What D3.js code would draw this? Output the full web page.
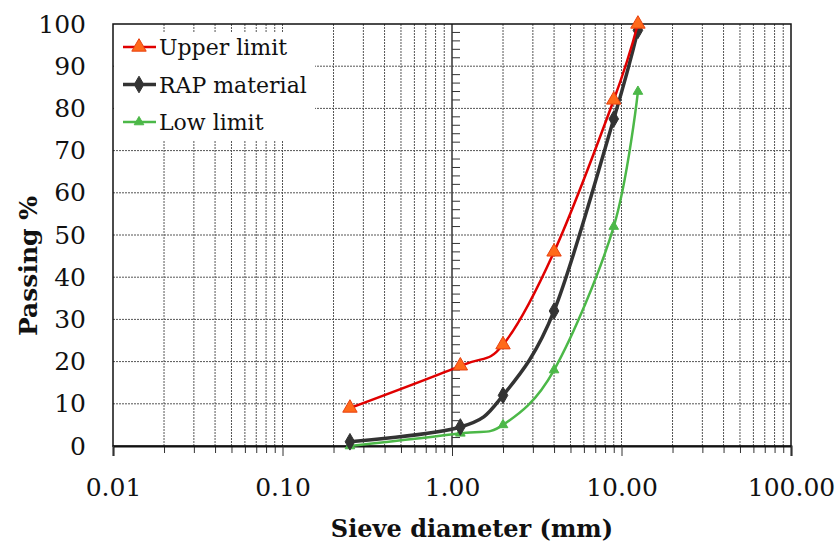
<!DOCTYPE html>
<html>
<head>
<meta charset="utf-8">
<script src="https://cdn.jsdelivr.net/npm/d3@7"></script>
<style>
  body { margin: 0; background: #fff; }
  svg text { font-family: "DejaVu Serif", "Liberation Serif", serif; fill: #111; }
</style>
</head>
<body>
<svg id="chart" width="835" height="543"></svg>
<script>
// sieve sizes (mm) and passing %
var sieves = [0.25, 1.12, 2, 4, 9, 12.5];
var upperLimit = [9, 19, 24, 46, 82, 100];
var rapMaterial = [1, 4.5, 12, 32, 77.5, 98.5];
var lowLimit = [0, 3, 5, 18, 52, 84];

var xMajor = [0.01, 0.1, 1, 10, 100];
var xLabels = ["0.01", "0.10", "1.00", "10.00", "100.00"];
var yTicks = [0, 10, 20, 30, 40, 50, 60, 70, 80, 90, 100];
var legendNames = ["Upper limit", "RAP material", "Low limit"];

var pLeft = 113, pRight = 791, pTop = 24, pBottom = 446;
var serif = '"DejaVu Serif", "Liberation Serif", serif';

var svg = d3.select("#chart");

var x = d3.scaleLog().domain([0.01, 100]).range([pLeft, pRight]);
var y = d3.scaleLinear().domain([0, 100]).range([pBottom, pTop]);

// all log ticks (2..9 in each decade)
var xMinor = [];
xMajor.slice(0, -1).forEach(function(m) {
    for (var k = 2; k <= 9; k++) xMinor.push(+(m * k).toPrecision(3));
});

// grid
var grid = svg.append("g").attr("class", "grid");
grid.selectAll("line.v")
    .data(xMinor.concat([0.1, 10]))
    .enter().append("line")
    .attr("x1", function(d) { return x(d); })
    .attr("x2", function(d) { return x(d); })
    .attr("y1", pTop).attr("y2", pBottom)
    .attr("stroke", "#555").attr("stroke-width", 1)
    .attr("stroke-dasharray", "2,1");
grid.selectAll("line.h")
    .data(yTicks.slice(1, -1))
    .enter().append("line")
    .attr("x1", pLeft).attr("x2", pRight)
    .attr("y1", function(d) { return y(d); })
    .attr("y2", function(d) { return y(d); })
    .attr("stroke", "#555").attr("stroke-width", 1)
    .attr("stroke-dasharray", "2,1");

// vertical value axis crossing at 1.0 with minor ticks
svg.append("line")
    .attr("x1", x(1)).attr("x2", x(1))
    .attr("y1", pTop).attr("y2", pBottom)
    .attr("stroke", "#333").attr("stroke-width", 1.5);
svg.append("g").selectAll("line")
    .data(d3.range(2, 100, 2).filter(function(v) { return v % 10 != 0; }))
    .enter().append("line")
    .attr("x1", x(1)).attr("x2", x(1) + 8)
    .attr("y1", function(d) { return y(d); })
    .attr("y2", function(d) { return y(d); })
    .attr("stroke", "#333").attr("stroke-width", 1);

// frame
svg.append("rect")
    .attr("x", pLeft).attr("y", pTop)
    .attr("width", pRight - pLeft).attr("height", pBottom - pTop)
    .attr("fill", "none").attr("stroke", "#111").attr("stroke-width", 1.5);

// bottom axis: minor ticks, then major ticks with labels
svg.append("g")
    .attr("transform", "translate(0," + pBottom + ")")
    .call(d3.axisBottom(x).tickValues(xMinor).tickSize(7).tickFormat(""))
    .call(function(g) { g.select(".domain").remove(); })
    .selectAll("line").attr("stroke", "#333");
var xAxis = svg.append("g")
    .attr("transform", "translate(0," + pBottom + ")")
    .call(d3.axisBottom(x).tickValues(xMajor).tickSize(10).tickPadding(22)
        .tickFormat(function(d, i) { return xLabels[i]; }));
xAxis.attr("font-family", null);
xAxis.select(".domain").attr("stroke", "#111").attr("stroke-width", 2);
xAxis.selectAll("line").attr("stroke", "#333");
xAxis.selectAll("text")
    .style("font-family", serif)
    .style("font-size", "25px").attr("fill", "#111");

// left axis labels
var yAxis = svg.append("g")
    .attr("transform", "translate(" + pLeft + ",0)")
    .call(d3.axisLeft(y).tickValues(yTicks).tickSize(0).tickPadding(27));
yAxis.attr("font-family", null);
yAxis.select(".domain").remove();
yAxis.selectAll("text")
    .style("font-family", serif)
    .style("font-size", "25px").attr("fill", "#111");

// axis titles
svg.append("text")
    .attr("x", 472).attr("y", 537)
    .attr("text-anchor", "middle")
    .style("font-family", serif)
    .style("font-size", "24px").style("font-weight", "bold")
    .text("Sieve diameter (mm)");
svg.append("text")
    .attr("transform", "translate(37,266) rotate(-90)")
    .attr("text-anchor", "middle")
    .style("font-family", serif)
    .style("font-size", "25px").style("font-weight", "bold")
    .text("Passing %");

// legend background
svg.append("rect")
    .attr("x", pLeft + 1).attr("y", 32)
    .attr("width", 201).attr("height", 109)
    .attr("fill", "#fff");

var line = d3.line()
    .x(function(d) { return x(d[0]); })
    .y(function(d) { return y(d[1]); })
    .curve(d3.curveCardinal.tension(0));

var tri = d3.symbol().type(d3.symbolTriangle);
var dia = d3.symbol().type(d3.symbolDiamond);

var series = [
    { name: legendNames[0], values: upperLimit, color: "#e00000", width: 2.5,
      marker: tri.size(90)(), fill: "#ff6a1a", stroke: "#e84010" },
    { name: legendNames[1], values: rapMaterial, color: "#333333", width: 3.5,
      marker: dia.size(80)(), fill: "#333333", stroke: "#333333" },
    { name: legendNames[2], values: lowLimit, color: "#4cb848", width: 2.5,
      marker: tri.size(40)(), fill: "#4cb848", stroke: "#4cb848" }
];

// draw low limit first so upper/RAP sit on top
series.slice().reverse().forEach(function(s) {
    var pts = sieves.map(function(d, i) { return [d, s.values[i]]; });
    svg.append("path")
        .datum(pts)
        .attr("d", line)
        .attr("fill", "none")
        .attr("stroke", s.color)
        .attr("stroke-width", s.width);
    svg.append("g").selectAll("path")
        .data(pts)
        .enter().append("path")
        .attr("d", s.marker)
        .attr("transform", function(d) { return "translate(" + x(d[0]) + "," + y(d[1]) + ")"; })
        .attr("fill", s.fill)
        .attr("stroke", s.stroke)
        .attr("stroke-width", 1);
});

// legend
var legend = svg.append("g");
series.forEach(function(s, i) {
    var cy = 47 + i * 37.5;
    legend.append("line")
        .attr("x1", 123).attr("x2", 156)
        .attr("y1", cy).attr("y2", cy)
        .attr("stroke", s.color).attr("stroke-width", s.width);
    legend.append("path")
        .attr("d", s.marker)
        .attr("transform", "translate(139," + cy + ")")
        .attr("fill", s.fill).attr("stroke", s.stroke).attr("stroke-width", 1);
    legend.append("text")
        .attr("x", 159).attr("y", cy + 8)
        .style("font-family", serif)
        .style("font-size", "22px")
        .text(s.name);
});
</script>
</body>
</html>
